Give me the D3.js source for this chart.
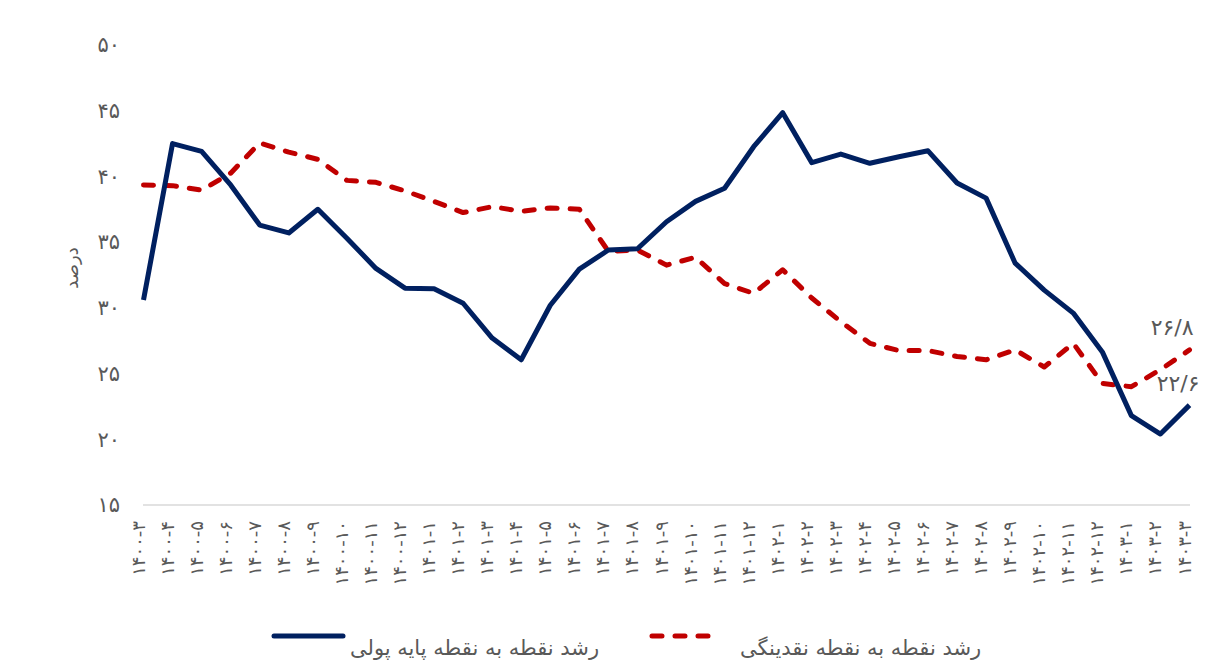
<!DOCTYPE html>
<html><head><meta charset="utf-8">
<script src="https://cdn.jsdelivr.net/npm/d3@7/dist/d3.min.js"></script>
<style>body{margin:0;background:#fff;}svg{display:block;font-family:"DejaVu Sans",sans-serif;}</style>
</head><body><svg id="c" width="1210" height="669"></svg>
<script>
const categories = ["۱۴۰۰-۳","۱۴۰۰-۴","۱۴۰۰-۵","۱۴۰۰-۶","۱۴۰۰-۷","۱۴۰۰-۸","۱۴۰۰-۹","۱۴۰۰-۱۰","۱۴۰۰-۱۱","۱۴۰۰-۱۲",
"۱۴۰۱-۱","۱۴۰۱-۲","۱۴۰۱-۳","۱۴۰۱-۴","۱۴۰۱-۵","۱۴۰۱-۶","۱۴۰۱-۷","۱۴۰۱-۸","۱۴۰۱-۹","۱۴۰۱-۱۰","۱۴۰۱-۱۱","۱۴۰۱-۱۲",
"۱۴۰۲-۱","۱۴۰۲-۲","۱۴۰۲-۳","۱۴۰۲-۴","۱۴۰۲-۵","۱۴۰۲-۶","۱۴۰۲-۷","۱۴۰۲-۸","۱۴۰۲-۹","۱۴۰۲-۱۰","۱۴۰۲-۱۱","۱۴۰۲-۱۲",
"۱۴۰۳-۱","۱۴۰۳-۲","۱۴۰۳-۳"];
const baseMoney = [30.6,42.5,41.9,39.35,36.3,35.7,37.5,35.3,33.0,31.5,31.45,30.35,27.7,26.05,30.2,32.95,34.4,34.5,36.55,38.1,39.1,42.26,44.85,41.05,41.7,41.0,41.5,41.95,39.5,38.35,33.4,31.35,29.6,26.65,21.8,20.4,22.6];
const liquidity = [39.35,39.3,38.95,40.25,42.55,41.85,41.3,39.7,39.55,38.9,38.1,37.25,37.7,37.35,37.6,37.5,34.3,34.4,33.25,33.85,31.85,31.1,32.9,30.75,28.95,27.3,26.75,26.75,26.3,26.05,26.8,25.5,27.3,24.25,24.0,25.3,26.8];
const yTicks = [15,20,25,30,35,40,45,50];
const yTickLabels = ["۱۵","۲۰","۲۵","۳۰","۳۵","۴۰","۴۵","۵۰"];
const seriesNames = ["رشد نقطه به نقطه پایه پولی","رشد نقطه به نقطه نقدینگی"];
const endLabels = ["۲۲/۶","۲۶/۸"];
const yTitle = "درصد";

const svg = d3.select("#c");
const x = d3.scalePoint().domain(categories).range([143.5, 1189.5]);
const y = d3.scaleLinear().domain([15,50]).range([505,45]);
const grey = "#595959";
const BLUE = "#002060", RED = "#C00000";

svg.append("line").attr("x1",143).attr("x2",1190).attr("y1",y(15)).attr("y2",y(15))
  .attr("stroke","#d9d9d9").attr("stroke-width",1.3);

svg.append("g").selectAll("text").data(yTicks).join("text")
  .attr("x",120).attr("y",d=>y(d)).attr("dy","0.35em").attr("text-anchor","end")
  .attr("fill",grey).attr("font-size",21).text((d,i)=>yTickLabels[i]);

svg.append("text").attr("transform","translate(78,268) rotate(-90)")
  .attr("text-anchor","middle").attr("fill",grey).attr("font-size",18).text(yTitle);

svg.append("g").selectAll("text").data(categories).join("text")
  .attr("transform",d=>`translate(${x(d)+1},521) rotate(-90)`)
  .attr("text-anchor","end").attr("fill",grey).attr("font-size",18).text(d=>d);

const line = d3.line().x((d,i)=>x(categories[i])).y(d=>y(d));
svg.append("path").datum(liquidity).attr("d",line).attr("fill","none")
  .attr("stroke",RED).attr("stroke-width",5).attr("stroke-dasharray","10,13")
  .attr("stroke-linecap","round").attr("stroke-linejoin","round");
svg.append("path").datum(baseMoney).attr("d",line).attr("fill","none")
  .attr("stroke",BLUE).attr("stroke-width",5).attr("stroke-linejoin","round");

const last = categories[categories.length-1];
svg.append("text").attr("x",x(last)+4).attr("y",y(liquidity[36])-15).attr("text-anchor","end")
  .attr("fill",grey).attr("font-size",22).text(endLabels[1]);
svg.append("text").attr("x",x(last)+10).attr("y",y(baseMoney[36])-14).attr("text-anchor","end")
  .attr("fill",grey).attr("font-size",22).text(endLabels[0]);

svg.append("line").attr("x1",274).attr("x2",343).attr("y1",636).attr("y2",636)
  .attr("stroke",BLUE).attr("stroke-width",5).attr("stroke-linecap","round");
svg.append("text").attr("x",350).attr("y",655).attr("fill",grey).attr("font-size",21).text(seriesNames[0]);
svg.append("line").attr("x1",652).attr("x2",712).attr("y1",636).attr("y2",636)
  .attr("stroke",RED).attr("stroke-width",5).attr("stroke-dasharray","10,13").attr("stroke-linecap","round");
svg.append("text").attr("x",740).attr("y",655).attr("fill",grey).attr("font-size",21).text(seriesNames[1]);
</script></body></html>
